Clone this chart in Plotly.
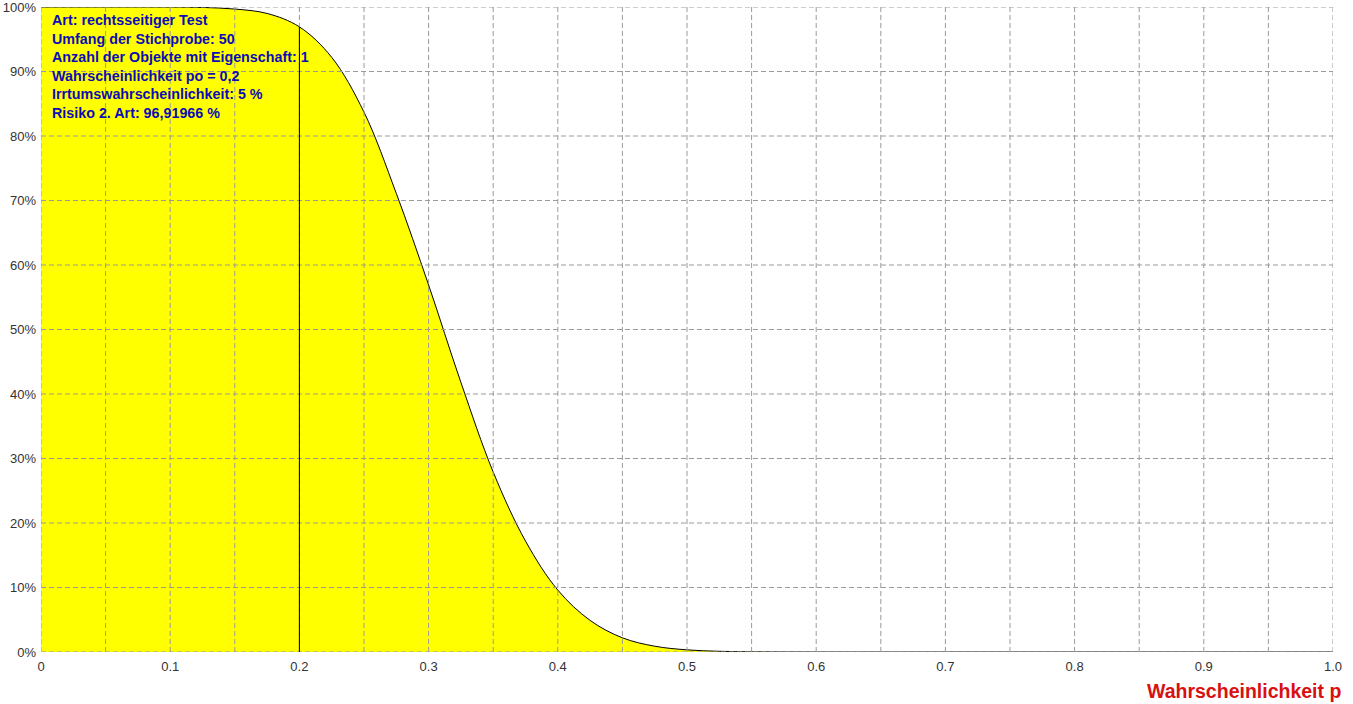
import plotly.graph_objects as go

# Operating characteristic (Risiko 2. Art)
p_values = [0.0, 0.025, 0.05, 0.075, 0.1, 0.125, 0.15, 0.175, 0.2, 0.225, 0.25, 0.275,
            0.3, 0.325, 0.35, 0.375, 0.4, 0.425, 0.45, 0.475, 0.5, 0.525, 0.55, 0.575,
            0.6, 0.625, 0.65, 0.7, 0.75, 0.8, 0.85, 0.9, 0.95, 1.0]
beta_values = [1.0, 1.0, 1.0, 1.0, 0.9999, 0.9993, 0.9968, 0.990, 0.9692, 0.922, 0.837, 0.711,
               0.569, 0.418, 0.279, 0.172, 0.096, 0.049, 0.022, 0.009, 0.0033, 0.0011, 0.0003, 0.0001,
               0.00002, 0.0, 0.0, 0.0, 0.0, 0.0, 0.0, 0.0, 0.0, 0.0]
p0 = 0.2
beta_at_p0 = 0.9691966

x_tick_vals = [0.0, 0.05, 0.1, 0.15, 0.2, 0.25, 0.3, 0.35, 0.4, 0.45, 0.5, 0.55,
               0.6, 0.65, 0.7, 0.75, 0.8, 0.85, 0.9, 0.95, 1.0]
x_tick_text = ["0", "", "0.1", "", "0.2", "", "0.3", "", "0.4", "", "0.5", "",
               "0.6", "", "0.7", "", "0.8", "", "0.9", "", "1.0"]
y_tick_vals = [0.0, 0.1, 0.2, 0.3, 0.4, 0.5, 0.6, 0.7, 0.8, 0.9, 1.0]

info_lines = [
    "Art: rechtsseitiger Test",
    "Umfang der Stichprobe: 50",
    "Anzahl der Objekte mit Eigenschaft: 1",
    "Wahrscheinlichkeit po = 0,2",
    "Irrtumswahrscheinlichkeit: 5 %",
    "Risiko 2. Art: 96,91966 %",
]

tick_font = dict(family="Liberation Sans, Arial, sans-serif", size=13, color="#333333")

fig = go.Figure()
fig.add_trace(go.Scatter(
    x=p_values, y=beta_values, mode="lines",
    line=dict(color="black", width=1, shape="spline", smoothing=1.0),
    fill="tozeroy", fillcolor="#FFFF00", hoverinfo="skip", showlegend=False))

grid_style = dict(color="#9a9a9a", width=1, dash="5px,3px")
shapes = []
for xv in x_tick_vals:
    shapes.append(dict(type="line", xref="x", yref="y", x0=xv, x1=xv, y0=0, y1=1,
                       line=grid_style, layer="above"))
for yv in y_tick_vals:
    shapes.append(dict(type="line", xref="x", yref="y", x0=0, x1=1, y0=yv, y1=yv,
                       line=grid_style, layer="above"))
# solid marker line at p0, drawn over the grid
shapes.append(dict(type="line", xref="x", yref="y", x0=p0, x1=p0, y0=0, y1=beta_at_p0,
                   line=dict(color="black", width=1), layer="above"))

fig.update_layout(
    width=1353, height=704,
    margin=dict(l=41, r=20, t=7, b=52, autoexpand=False),
    paper_bgcolor="white", plot_bgcolor="white",
    font=dict(family="Liberation Sans, Arial, sans-serif", size=12, color="#333333"),
    shapes=shapes,
    xaxis=dict(range=[0, 1], tickvals=x_tick_vals, ticktext=x_tick_text, automargin=False,
               showgrid=False, zeroline=False, showline=False, ticks="",
               ticklabelstandoff=5, tickfont=tick_font, ticklabeloverflow="allow"),
    yaxis=dict(range=[0, 1], tickvals=y_tick_vals, tickformat=".0%", automargin=False,
               showgrid=False, zeroline=False, showline=False, ticks="",
               ticklabelstandoff=4, tickfont=tick_font, ticklabeloverflow="allow"),
    annotations=[
        dict(text="<br>".join(info_lines), xref="paper", yref="paper", x=0.007, y=0.996,
             xanchor="left", yanchor="top", align="left", showarrow=False,
             font=dict(family="Liberation Sans, Arial, sans-serif", size=14.3, color="#0C0CB8",
                       weight="bold")),
        dict(text="<b>Wahrscheinlichkeit p</b>", xref="paper", yref="paper",
             x=(1343 - 41) / 1292, y=(652 - 691) / 645, xanchor="right", yanchor="middle",
             showarrow=False,
             font=dict(family="Liberation Sans, Arial, sans-serif", size=19.5, color="#D81010")),
    ],
)

fig.write_html("out.html", config={"displayModeBar": False},
               post_script="document.body.style.margin='0';")
